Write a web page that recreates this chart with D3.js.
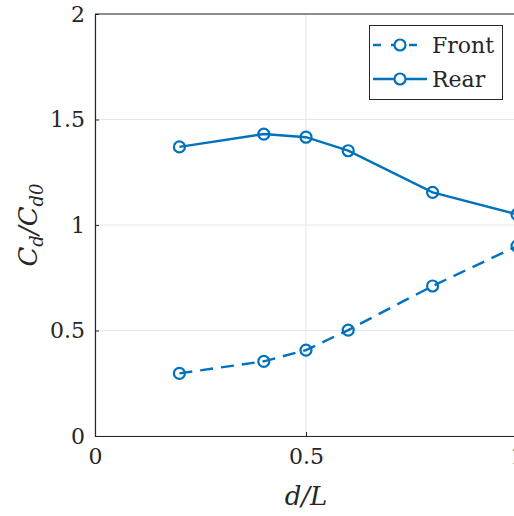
<!DOCTYPE html>
<html>
<head>
<meta charset="utf-8">
<script src="https://cdn.jsdelivr.net/npm/d3@7"></script>
<style>
  body { margin: 0; background: #fff; }
  svg { display: block; }
  text { font-family: "DejaVu Serif", "Liberation Serif", serif; fill: #262626; }
</style>
</head>
<body>
<div id="chart"></div>
<script>
// data
const xVals = [0.2, 0.4, 0.5, 0.6, 0.8, 1.0];
const front = [0.297, 0.354, 0.407, 0.502, 0.711, 0.900];
const rear = [1.370, 1.431, 1.416, 1.352, 1.155, 1.050];
const xTicks = [0, 0.5, 1];
const yTicks = [0, 0.5, 1, 1.5, 2];
const seriesNames = ["Front", "Rear"];

const width = 514, height = 516;
const margin = { left: 95, top: 14 };
const plotW = 422, plotH = 422;
const blue = "#0072BD";
const axisCol = "#262626";
const tickFont = "22px";

const svg = d3.select("#chart").append("svg")
    .attr("width", width)
    .attr("height", height);

const x = d3.scaleLinear().domain([0, 1]).range([margin.left, margin.left + plotW]);
const y = d3.scaleLinear().domain([0, 2]).range([margin.top + plotH, margin.top]);

// grid
const grid = svg.append("g");
grid.selectAll(".gx").data(xTicks).enter().append("line")
    .attr("x1", d => x(d)).attr("x2", d => x(d))
    .attr("y1", y(0)).attr("y2", y(2))
    .style("stroke", "#e6e6e6").style("stroke-width", 1);
grid.selectAll(".gy").data(yTicks).enter().append("line")
    .attr("x1", x(0)).attr("x2", x(1))
    .attr("y1", d => y(d)).attr("y2", d => y(d))
    .style("stroke", "#e6e6e6").style("stroke-width", 1);

// axes (MATLAB style: inward ticks, box)
const xAxis = d3.axisBottom(x).tickValues(xTicks).tickSizeInner(-4).tickSizeOuter(0)
    .tickPadding(12).tickFormat(d3.format("~g"));
const yAxis = d3.axisLeft(y).tickValues(yTicks).tickSizeInner(-4).tickSizeOuter(0)
    .tickPadding(10).tickFormat(d3.format("~g"));

const gx = svg.append("g").attr("transform", `translate(0,${y(0)})`).call(xAxis);
const gy = svg.append("g").attr("transform", `translate(${x(0)},0)`).call(yAxis);
[gx, gy].forEach(g => {
    g.select(".domain").style("stroke", axisCol).style("stroke-width", 1.2);
    g.selectAll(".tick line").style("stroke", axisCol);
    g.selectAll(".tick text").style("font-size", tickFont).style("fill", axisCol)
        .style("font-family", "'DejaVu Serif', serif");
});
gx.selectAll(".tick text").attr("dy", "0.72em");

// box top and right
svg.append("line")
    .attr("x1", x(0)).attr("x2", x(1)).attr("y1", y(2)).attr("y2", y(2))
    .style("stroke", axisCol).style("stroke-width", 1.2);
svg.append("line")
    .attr("x1", x(1)).attr("x2", x(1)).attr("y1", y(0)).attr("y2", y(2))
    .style("stroke", axisCol).style("stroke-width", 1.2);

// series
const line = d3.line().x(d => x(d[0])).y(d => y(d[1]));
const frontPts = xVals.map((v, i) => [v, front[i]]);
const rearPts = xVals.map((v, i) => [v, rear[i]]);

function drawSeries(pts, dash) {
    svg.append("path").datum(pts)
        .attr("d", line)
        .style("fill", "none")
        .style("stroke", blue)
        .style("stroke-width", 2.4)
        .style("stroke-dasharray", dash);
    svg.append("g").selectAll("circle").data(pts).enter().append("circle")
        .attr("cx", d => x(d[0])).attr("cy", d => y(d[1]))
        .attr("r", 5.5)
        .style("fill", "none")
        .style("stroke", blue)
        .style("stroke-width", 2.2);
}
drawSeries(frontPts, "13,8");
drawSeries(rearPts, null);

// legend
const leg = svg.append("g");
leg.append("rect")
    .attr("x", 369.5).attr("y", 25.5).attr("width", 133).attr("height", 74)
    .style("fill", "#fff").style("stroke", axisCol).style("stroke-width", 1);
const legRows = [{ name: seriesNames[0], dash: "8,10", yy: 45 }, { name: seriesNames[1], dash: null, yy: 79 }];
legRows.forEach(r => {
    leg.append("line")
        .attr("x1", 373).attr("x2", 427).attr("y1", r.yy).attr("y2", r.yy)
        .style("stroke", blue).style("stroke-width", 2.4)
        .style("stroke-dasharray", r.dash);
    leg.append("circle").attr("cx", 400).attr("cy", r.yy).attr("r", 5.5)
        .style("fill", "#fff").style("stroke", blue).style("stroke-width", 2.2);
    leg.append("text").attr("x", 432).attr("y", r.yy + 8)
        .style("font-size", tickFont).text(r.name);
});

// axis labels
svg.append("text")
    .attr("x", x(0.5)).attr("y", 505)
    .attr("text-anchor", "middle")
    .style("font-size", "26px").style("font-style", "italic")
    .text("d/L");

const yl = svg.append("text")
    .attr("transform", `translate(37,${y(1)}) rotate(-90)`)
    .attr("text-anchor", "middle")
    .style("font-size", "26px").style("font-style", "italic");
yl.append("tspan").text("C");
yl.append("tspan").attr("dy", 6).style("font-size", "18px").text("d");
yl.append("tspan").attr("dy", -6).text("/C");
yl.append("tspan").attr("dy", 6).style("font-size", "18px").text("d0");
</script>
</body>
</html>
